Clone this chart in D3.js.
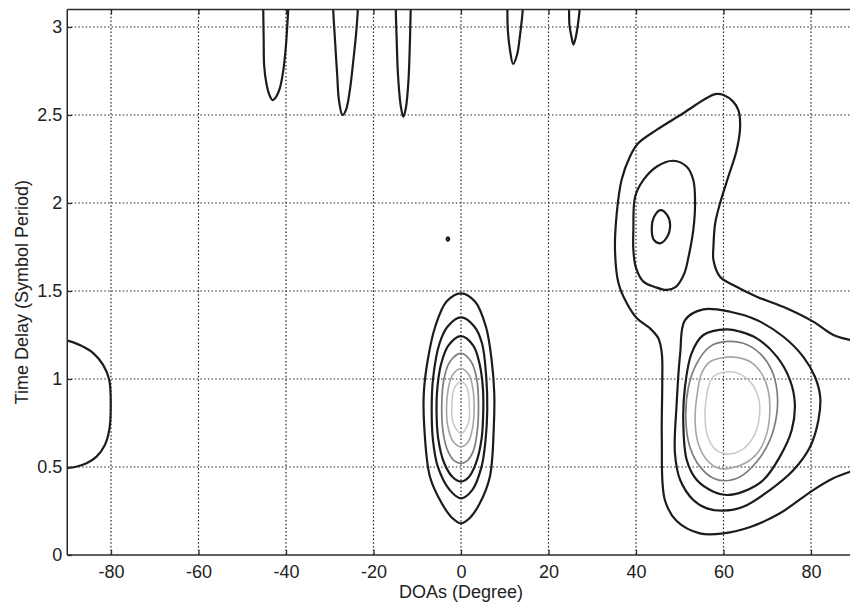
<!DOCTYPE html>
<html>
<head>
<meta charset="utf-8">
<script src="https://cdn.jsdelivr.net/npm/d3@7"></script>
<style>
  html, body { margin: 0; padding: 0; background: #fff; overflow: hidden; }
  svg { display: block; }
  text { font-family: "Liberation Sans", Arial, Helvetica, sans-serif; fill: #222; }
</style>
</head>
<body>
<svg id="chart" width="850" height="604"></svg>
<script>
// Axis ticks
const doaTicks = [-80, -60, -40, -20, 0, 20, 40, 60, 80];
const delayTicks = [0, 0.5, 1, 1.5, 2, 2.5, 3];

// Contour lines of the delay/DOA spectrum, as [DOA (deg), delay (symbol periods)] vertices.
// Level 1 (outermost) ... level 6 (innermost).
const leftLobe = [[-92, 1.22], [-90, 1.218], [-86.9, 1.19], [-84.0, 1.146], [-81.8, 1.08], [-80.4, 0.994],
  [-80.07, 0.824], [-80.4, 0.71], [-81.4, 0.625], [-83.3, 0.559], [-85.6, 0.521], [-88.2, 0.50], [-90, 0.495], [-92, 0.494]];

const spikeA = [[-45.2, 3.15], [-45.2, 3.097], [-45.1, 2.926], [-45.0, 2.784], [-44.5, 2.682], [-43.8, 2.614],
  [-43.1, 2.585], [-42.3, 2.602], [-41.4, 2.653], [-40.6, 2.756], [-40.0, 2.898], [-39.7, 3.011], [-39.5, 3.097], [-39.5, 3.15]];
const spikeB = [[-29.2, 3.15], [-29.2, 3.097], [-28.8, 2.926], [-28.3, 2.727], [-27.9, 2.585], [-27.1, 2.50],
  [-26.3, 2.528], [-25.4, 2.642], [-24.6, 2.813], [-24.0, 2.955], [-23.6, 3.097], [-23.6, 3.15]];
const spikeC = [[-14.9, 3.15], [-14.9, 3.097], [-14.7, 2.926], [-14.4, 2.727], [-13.8, 2.557], [-13.2, 2.49],
  [-12.6, 2.54], [-12.0, 2.699], [-11.7, 2.898], [-11.5, 3.097], [-11.5, 3.15]];
const spikeD = [[10.6, 3.15], [10.6, 3.097], [10.7, 2.983], [11.2, 2.869], [11.9, 2.79], [12.8, 2.841],
  [13.5, 2.955], [13.9, 3.04], [14.1, 3.097], [14.1, 3.15]];
const spikeE = [[24.7, 3.15], [24.7, 3.097], [24.8, 3.011], [25.3, 2.938], [25.7, 2.90], [26.2, 2.938],
  [26.7, 3.011], [27.1, 3.097], [27.1, 3.15]];
const speck = [[-3.3, 1.795], [-3.0, 1.805], [-2.7, 1.795], [-3.0, 1.785]];

const centreL1 = [[0, 1.487], [3.2, 1.44], [5.7, 1.297], [7.0, 1.108], [7.6, 0.92], [7.5, 0.729], [6.6, 0.445],
  [4.3, 0.294], [2.0, 0.21], [0, 0.18], [-2.0, 0.21], [-4.4, 0.294], [-7.1, 0.445], [-8.4, 0.729], [-8.5, 0.92],
  [-7.6, 1.108], [-5.9, 1.297], [-3.3, 1.44]];
const centreL2 = [[0, 1.35], [3.0, 1.30], [4.8, 1.203], [5.8, 1.0], [6.0, 0.824], [5.6, 0.65], [4.7, 0.502],
  [2.6, 0.37], [0, 0.322], [-2.6, 0.37], [-5.3, 0.502], [-6.4, 0.65], [-6.7, 0.824], [-6.4, 1.0], [-4.9, 1.203], [-3.0, 1.30]];
const centreL3 = [[0, 1.244], [2.8, 1.19], [4.3, 1.08], [5.0, 0.95], [5.1, 0.83], [4.7, 0.66], [3.4, 0.52],
  [1.7, 0.44], [0, 0.417], [-1.8, 0.44], [-3.8, 0.52], [-5.2, 0.66], [-5.6, 0.83], [-5.4, 0.95], [-4.6, 1.08], [-2.9, 1.19]];
const centreL4 = [[0, 1.146], [2.3, 1.10], [3.6, 1.0], [4.0, 0.85], [3.7, 0.70], [2.8, 0.59], [1.4, 0.535],
  [0, 0.521], [-1.5, 0.535], [-3.0, 0.59], [-4.1, 0.70], [-4.4, 0.85], [-3.9, 1.0], [-2.5, 1.10]];
const centreL5 = [[0, 1.06], [1.9, 1.02], [2.8, 0.93], [3.0, 0.84], [2.7, 0.73], [1.7, 0.645], [0, 0.615],
  [-1.8, 0.645], [-3.0, 0.73], [-3.3, 0.84], [-3.0, 0.93], [-2.0, 1.02]];
const centreL6 = [[0, 0.985], [1.4, 0.95], [1.9, 0.85], [1.7, 0.75], [0, 0.69], [-1.8, 0.75], [-2.1, 0.85], [-1.5, 0.95]];

const rightOuter = [[91.2, 0.494], [88.9, 0.473], [85.1, 0.436], [80.5, 0.369], [72.9, 0.237], [66.1, 0.159],
  [60.0, 0.123], [54.6, 0.123], [49.3, 0.193], [46.6, 0.3125], [45.9, 0.653], [46.0, 0.976], [45.9, 1.146],
  [45.1, 1.231], [43.2, 1.288], [40.2, 1.345], [37.9, 1.43], [36.0, 1.544], [35.2, 1.733], [35.6, 1.941],
  [36.7, 2.131], [38.6, 2.263], [40.5, 2.339], [44.7, 2.415], [50.8, 2.51], [55.4, 2.585], [58.1, 2.619],
  [60.0, 2.614], [62.2, 2.576], [63.4, 2.528], [63.8, 2.434], [63.0, 2.30], [61.1, 2.149], [59.2, 1.998],
  [58.1, 1.885], [57.7, 1.752], [57.7, 1.676], [59.2, 1.581], [62.2, 1.534], [67.6, 1.468], [74.4, 1.402],
  [80.5, 1.326], [85.1, 1.25], [88.9, 1.222], [91.2, 1.21]];
const upperIslandL2 = [[48.5, 2.24], [51.6, 2.206], [53.1, 2.131], [53.5, 1.998], [53.1, 1.847], [52.1, 1.705],
  [51.0, 1.597], [49.1, 1.523], [47.1, 1.506], [44.3, 1.523], [41.7, 1.553], [40.0, 1.631], [39.4, 1.733],
  [39.4, 1.847], [39.8, 2.036], [41.7, 2.131], [44.7, 2.206]];
const upperIslandL3 = [[45.6, 1.96], [47.1, 1.932], [47.8, 1.875], [47.1, 1.807], [45.5, 1.771], [44.1, 1.79],
  [43.6, 1.858], [44.1, 1.92]];
const rightL2 = [[55.4, 1.396], [51.2, 1.335], [50.1, 1.146], [49.3, 0.862], [48.9, 0.578], [50.1, 0.426],
  [53.1, 0.3125], [56.2, 0.265], [60.0, 0.252], [64.5, 0.274], [70.6, 0.369], [76.0, 0.483], [79.8, 0.615],
  [81.7, 0.767], [82.1, 0.899], [80.9, 1.013], [78.2, 1.127], [73.7, 1.24], [67.6, 1.335], [61.5, 1.382]];
const rightL3 = [[60.7, 1.282], [55.4, 1.25], [52.7, 1.146], [51.2, 0.956], [50.8, 0.767], [51.6, 0.54],
  [53.9, 0.426], [57.7, 0.36], [60.7, 0.341], [64.5, 0.36], [69.1, 0.426], [72.9, 0.559], [75.6, 0.71],
  [76.3, 0.862], [75.2, 0.994], [72.2, 1.127], [67.6, 1.231], [63.8, 1.269]];
const rightL4 = [[60.3, 1.212], [56.9, 1.184], [53.9, 1.089], [52.0, 0.956], [51.4, 0.767], [52.3, 0.615],
  [54.6, 0.502], [57.7, 0.436], [60.3, 0.422], [63.8, 0.445], [67.6, 0.53], [70.6, 0.653], [72.2, 0.805],
  [72.2, 0.9375], [71.0, 1.051], [68.3, 1.146], [64.5, 1.203]];
const rightL5 = [[60.3, 1.123], [56.9, 1.098], [55.0, 1.032], [53.9, 0.899], [53.5, 0.767], [54.2, 0.635],
  [56.2, 0.54], [58.9, 0.493], [61.5, 0.493], [64.9, 0.521], [68.0, 0.587], [69.9, 0.691], [70.6, 0.824],
  [70.2, 0.9375], [68.7, 1.032], [66.1, 1.098], [63.0, 1.123]];
const rightL6 = [[60.3, 1.04], [57.4, 1.006], [56.0, 0.881], [55.8, 0.767], [56.5, 0.665], [58.3, 0.597],
  [61.0, 0.574], [64.2, 0.597], [66.7, 0.665], [68.1, 0.767], [68.1, 0.881], [66.5, 0.972], [63.8, 1.028]];

// Grey level of each contour level
const levelColors = ["#1c1c1c", "#1c1c1c", "#1c1c1c", "#7d7d7d", "#a6a6a6", "#c8c8c8"];
const levelWidths = [2.2, 2.2, 2.2, 1.7, 1.6, 1.5];

const contourTable = [
  { pts: leftLobe, level: 1, closed: false },
  { pts: spikeA, level: 1, closed: false },
  { pts: spikeB, level: 1, closed: false },
  { pts: spikeC, level: 1, closed: false },
  { pts: spikeD, level: 1, closed: false },
  { pts: spikeE, level: 1, closed: false },
  { pts: speck, level: 1, closed: true },
  { pts: centreL1, level: 1, closed: true },
  { pts: centreL2, level: 2, closed: true },
  { pts: centreL3, level: 3, closed: true },
  { pts: centreL4, level: 4, closed: true },
  { pts: centreL5, level: 5, closed: true },
  { pts: centreL6, level: 6, closed: true },
  { pts: rightOuter, level: 1, closed: false },
  { pts: upperIslandL2, level: 2, closed: true },
  { pts: upperIslandL3, level: 3, closed: true },
  { pts: rightL2, level: 2, closed: true },
  { pts: rightL3, level: 3, closed: true },
  { pts: rightL4, level: 4, closed: true },
  { pts: rightL5, level: 5, closed: true },
  { pts: rightL6, level: 6, closed: true }
];

const svg = d3.select("#chart");
const plotLeft = 67.25, plotRight = 854.75, plotTop = 9.4, plotBottom = 555;

const x = d3.scaleLinear().domain([-90, 90]).range([plotLeft, plotRight]);
const y = d3.scaleLinear().domain([0, 3.1]).range([plotBottom, plotTop]);

svg.append("defs").append("clipPath").attr("id", "plotClip")
  .append("rect").attr("x", plotLeft).attr("y", plotTop)
  .attr("width", plotRight - plotLeft).attr("height", plotBottom - plotTop);

// Dotted grid
const grid = svg.append("g").attr("stroke", "#222").attr("stroke-width", 1.2).attr("stroke-dasharray", "1.5,2.2");
grid.selectAll("line.v").data(doaTicks).join("line").attr("class", "v")
  .attr("x1", d => x(d)).attr("x2", d => x(d)).attr("y1", plotTop).attr("y2", plotBottom);
grid.selectAll("line.h").data(delayTicks.filter(d => d > 0)).join("line").attr("class", "h")
  .attr("y1", d => y(d)).attr("y2", d => y(d)).attr("x1", plotLeft).attr("x2", plotRight);

// Contours
const openLine = d3.line().x(d => x(d[0])).y(d => y(d[1])).curve(d3.curveCatmullRom.alpha(0.5));
const closedLine = d3.line().x(d => x(d[0])).y(d => y(d[1])).curve(d3.curveCatmullRomClosed.alpha(0.5));

svg.append("g").attr("clip-path", "url(#plotClip)")
  .selectAll("path").data(contourTable).join("path")
  .attr("d", d => (d.closed ? closedLine : openLine)(d.pts))
  .attr("fill", "none")
  .attr("stroke", d => levelColors[d.level - 1])
  .attr("stroke-width", d => levelWidths[d.level - 1])
  .attr("stroke-linejoin", "round");

// Axes (inward ticks, boxed); labels use a plain hyphen for negatives
const xAxisB = d3.axisBottom(x).tickValues(doaTicks).tickSize(-5).tickPadding(10).tickFormat(d => String(d));
const xAxisT = d3.axisTop(x).tickValues(doaTicks).tickSize(-5).tickFormat("");
const yAxisL = d3.axisLeft(y).tickValues(delayTicks).tickSize(-5).tickPadding(5).tickFormat(d => String(d));

function styleAxis(g) {
  g.select(".domain").attr("stroke", "#2a2a2a").attr("stroke-width", 1.5);
  g.selectAll(".tick line").attr("stroke", "#2a2a2a").attr("stroke-width", 1.3);
  g.selectAll(".tick text").attr("font-size", 18).attr("fill", "#222")
    .attr("font-family", "'Liberation Sans', Arial, sans-serif");
}
svg.append("g").attr("transform", `translate(0,${plotBottom})`).call(xAxisB).call(styleAxis)
  .call(g => g.select(".domain").attr("d", `M${plotLeft},0H${plotRight}`));
svg.append("g").attr("transform", `translate(0,${plotTop})`).call(xAxisT).call(styleAxis)
  .call(g => g.select(".domain").attr("d", `M${plotLeft},0H${plotRight}`));
svg.append("g").attr("transform", `translate(${plotLeft},0)`).call(yAxisL).call(styleAxis)
  .call(g => g.select(".domain").attr("d", `M0,${plotTop}V${plotBottom}`));
svg.append("line").attr("x1", plotRight).attr("x2", plotRight).attr("y1", plotTop).attr("y2", plotBottom)
  .attr("stroke", "#2a2a2a").attr("stroke-width", 1.5);

// Axis titles
svg.append("text").attr("x", x(0)).attr("y", 598).attr("text-anchor", "middle")
  .attr("font-size", 18).text("DOAs (Degree)");
svg.append("text").attr("transform", `translate(28,${(plotTop + plotBottom) / 2 + 10}) rotate(-90)`)
  .attr("text-anchor", "middle").attr("font-size", 18).text("Time Delay (Symbol Period)");
</script>
</body>
</html>
